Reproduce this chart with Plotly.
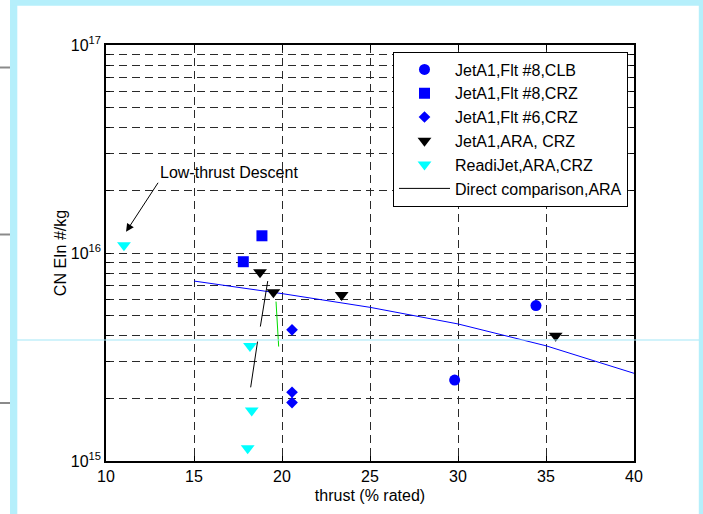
import math
import plotly.graph_objects as go

# ---- data ----
clb8_x = [29.81, 34.43]
clb8_y = [2.45e15, 5.59e15]
crz8_x = [17.80, 18.86]
crz8_y = [9.08e15, 1.21e16]
crz6_x = [20.57, 20.57, 20.57]
crz6_y = [4.27e15, 2.14e15, 1.91e15]
ara_x = [18.75, 19.51, 23.39, 35.55]
ara_y = [8.07e15, 6.47e15, 6.28e15, 4.0e15]
readi_x = [11.02, 18.18, 18.28, 18.05]
readi_y = [1.09e16, 3.57e15, 1.75e15, 1.15e15]
direct_x = [19.19, 18.77, None, 18.61, 18.22]
direct_y = [7.33e15, 4.43e15, None, 3.75e15, 2.26e15]
fit_x = [15, 20, 25, 30, 35, 40]
fit_y = [7.33e15, 6.38e15, 5.48e15, 4.56e15, 3.58e15, 2.64e15]
green_x = [19.66, 19.81]
green_y = [5.84e15, 3.55e15]

x_ticks = [10, 15, 20, 25, 30, 35, 40]
y_ticks = [1e15, 1e16, 1e17]
y_ticktext = ["10<sup>15</sup>", "10<sup>16</sup>", "10<sup>17</sup>"]
y_minor = [m * 10 ** e for e in (15, 16) for m in range(2, 10)]

annot_text = "Low-thrust Descent"
annot_tip = (11.14, 1.265e16)

FONT = "Arial, Liberation Sans, sans-serif"
FS = 16

fig = go.Figure()

fig.add_trace(go.Scatter(x=fit_x, y=fit_y, mode="lines", line=dict(color="#0000ff", width=1),
                         showlegend=False, hoverinfo="skip"))
fig.add_trace(go.Scatter(x=green_x, y=green_y, mode="lines", line=dict(color="#00dd00", width=1),
                         showlegend=False, hoverinfo="skip"))

fig.add_trace(go.Scatter(x=clb8_x, y=clb8_y, mode="markers", name="JetA1,Flt #8,CLB",
                         marker=dict(symbol="circle", size=11, color="#0000ff")))
fig.add_trace(go.Scatter(x=crz8_x, y=crz8_y, mode="markers", name="JetA1,Flt #8,CRZ",
                         marker=dict(symbol="square", size=11, color="#0000ff")))
fig.add_trace(go.Scatter(x=crz6_x, y=crz6_y, mode="markers", name="JetA1,Flt #6,CRZ",
                         marker=dict(symbol="diamond", size=9, color="#0000ff")))
fig.add_trace(go.Scatter(x=ara_x, y=ara_y, mode="markers", name="JetA1,ARA, CRZ",
                         marker=dict(symbol="triangle-down", size=12, color="#000000")))
fig.add_trace(go.Scatter(x=readi_x, y=readi_y, mode="markers", name="ReadiJet,ARA,CRZ",
                         marker=dict(symbol="triangle-down", size=12, color="#00ffff")))
fig.add_trace(go.Scatter(x=direct_x, y=direct_y, mode="lines", name="Direct comparison,ARA",
                         line=dict(color="#000000", width=1), connectgaps=False))

W, H = 703, 514
L, R, T, B = 106, 69, 45, 53
pw, ph = W - L - R, H - T - B


def px(x):
    return (x - L) / pw


def py(y):
    return (H - B - y) / ph


band = "#b5effb"
shapes = [
    dict(type="rect", xref="paper", yref="paper", x0=px(10), x1=px(17.3), y0=py(0), y1=py(514),
         fillcolor=band, line=dict(width=0), layer="below"),
    dict(type="rect", xref="paper", yref="paper", x0=px(10), x1=px(703), y0=py(0), y1=py(5.8),
         fillcolor=band, line=dict(width=0), layer="below"),
    dict(type="rect", xref="paper", yref="paper", x0=px(698.8), x1=px(703), y0=py(0), y1=py(514),
         fillcolor=band, line=dict(width=0), layer="below"),
    dict(type="line", xref="paper", yref="paper", x0=px(17), x1=px(699), y0=py(340), y1=py(340),
         line=dict(color="#a4e8f8", width=1.2), layer="above"),
]
for gy in (67.5, 234.5, 403):
    shapes.append(dict(type="line", xref="paper", yref="paper", x0=px(0), x1=px(10), y0=py(gy), y1=py(gy),
                       line=dict(color="#8a8a8a", width=2)))

grid = dict(color="#2a2a2a", dash="8px,5px")

fig.update_layout(
    width=W, height=H,
    margin=dict(l=L, r=R, t=T, b=B),
    paper_bgcolor="white", plot_bgcolor="white",
    font=dict(family=FONT, size=FS, color="black"),
    shapes=shapes,
    showlegend=True,
    legend=dict(x=px(393), y=py(51.5), xanchor="left", yanchor="top",
                bgcolor="white", bordercolor="black", borderwidth=1,
                font=dict(family=FONT, size=FS), traceorder="normal",
                itemwidth=51),
    xaxis=dict(range=[10, 40], tickmode="array", tickvals=x_ticks,
               showline=True, linecolor="black", linewidth=1.5, mirror="ticks",
               ticks="inside", ticklen=5, tickcolor="black",
               showgrid=True, gridcolor=grid["color"], griddash=grid["dash"], gridwidth=1,
               zeroline=False,
               title=dict(text="thrust (% rated)", font=dict(size=FS), standoff=6),
               tickfont=dict(size=FS)),
    yaxis=dict(type="log", range=[15, 17], tickmode="array", tickvals=y_ticks, ticktext=y_ticktext,
               showline=True, linecolor="black", linewidth=1.5, mirror="ticks",
               ticks="inside", ticklen=5, tickcolor="black",
               showgrid=True, gridcolor=grid["color"], griddash=grid["dash"], gridwidth=1,
               minor=dict(tickmode="array", tickvals=y_minor, showgrid=True,
                          gridcolor=grid["color"], griddash=grid["dash"], gridwidth=1,
                          ticks="inside", ticklen=4, tickcolor="black"),
               zeroline=False,
               title=dict(text="CN EIn #/kg", font=dict(size=FS), standoff=0),
               tickfont=dict(size=FS)),
)

fig.add_annotation(x=annot_tip[0], y=math.log10(annot_tip[1]), xref="x", yref="y",
                   text=annot_text, font=dict(size=FS, family=FONT),
                   xanchor="left", yanchor="bottom",
                   showarrow=True, arrowhead=2, arrowsize=1.6, arrowwidth=1,
                   arrowcolor="black", ax=32, ay=-49)

fig.write_html("out.html", config={"displayModeBar": False},
               post_script="document.body.style.margin='0';document.body.style.padding='0';")
